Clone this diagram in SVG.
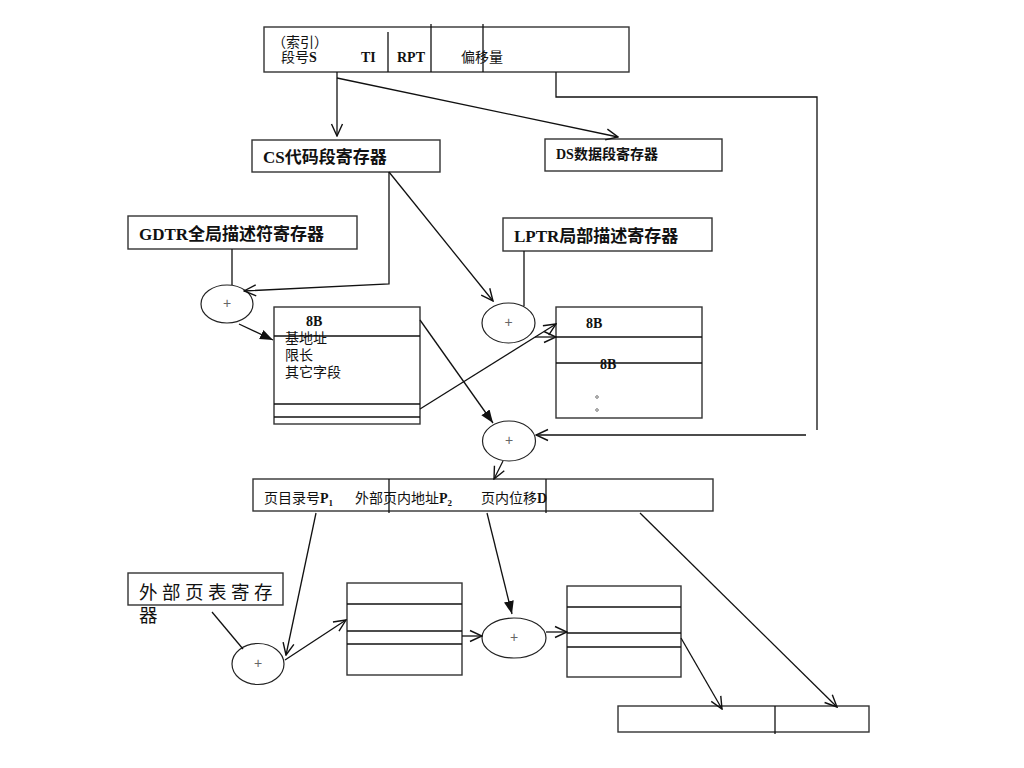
<svg xmlns="http://www.w3.org/2000/svg" width="1024" height="768" viewBox="0 0 1024 768">
<defs>
<style>
.box{fill:#fff;stroke:#333;stroke-width:1.4}
.ln{fill:none;stroke:#111;stroke-width:1.3}
.ell{fill:#fff;stroke:#222;stroke-width:1.2}
.t{font-family:"Liberation Serif","Noto Sans CJK SC",serif;fill:#111}
.cjk{font-family:"Noto Sans CJK SC",sans-serif;fill:#111}
.b{font-weight:bold}
.plus{font-family:"Liberation Sans",sans-serif;font-size:14px;fill:#666;text-anchor:middle}
</style>
<marker id="open" markerUnits="userSpaceOnUse" markerWidth="14" markerHeight="14" viewBox="0 0 14 14" refX="13" refY="7" orient="auto">
<path d="M1,1.5 L13,7 L1,12.5" fill="none" stroke="#111" stroke-width="1.4"/>
</marker>
<marker id="fill" markerUnits="userSpaceOnUse" markerWidth="14" markerHeight="12" viewBox="0 0 14 12" refX="13" refY="6" orient="auto">
<path d="M0,1 L13,6 L0,11 z" fill="#111"/>
</marker>
</defs>
<rect width="1024" height="768" fill="#fff"/>

<g id="selector">
<rect class="box" x="264" y="27" width="365" height="45"/>
<line class="ln" x1="388" y1="32" x2="388" y2="72"/>
<line class="ln" x1="431" y1="24" x2="431" y2="72"/>
<line class="ln" x1="483" y1="24" x2="483" y2="72"/>
<text class="cjk" x="272" y="47" font-size="14">（索引）</text>
<text class="t" x="281" y="62" font-size="14">段号<tspan class="b">S</tspan></text>
<text class="t b" x="361" y="62" font-size="14">TI</text>
<text class="t b" x="397" y="62" font-size="14">RPT</text>
<text class="t" x="461" y="62" font-size="14">偏移量</text>
</g>

<g id="cs">
<rect class="box" x="252" y="140" width="188" height="32"/>
<text class="t b" x="263" y="163" font-size="17">CS代码段寄存器</text>
</g>

<g id="ds">
<rect class="box" x="545" y="139" width="177" height="32"/>
<text class="t b" x="556" y="159" font-size="14">DS数据段寄存器</text>
</g>

<g id="gdtr">
<rect class="box" x="128" y="216" width="229" height="33"/>
<text class="t b" x="139" y="240" font-size="17">GDTR全局描述符寄存器</text>
</g>

<g id="lptr">
<rect class="box" x="503" y="218" width="209" height="33"/>
<text class="t b" x="514" y="242" font-size="17">LPTR局部描述寄存器</text>
</g>

<g id="add-gdtr">
<ellipse class="ell" cx="227" cy="304" rx="26" ry="19"/>
<text class="plus" x="227" y="308">+</text>
</g>

<g id="gdt">
<rect class="box" x="274" y="307" width="146" height="117"/>
<line class="ln" x1="274" y1="336" x2="420" y2="336"/>
<line class="ln" x1="274" y1="404" x2="420" y2="404"/>
<line class="ln" x1="274" y1="417" x2="420" y2="417"/>
<text class="t b" x="306" y="326" font-size="14">8B</text>
<text class="t" x="285" y="343" font-size="14">基地址</text>
<text class="t" x="285" y="360" font-size="14">限长</text>
<text class="t" x="285" y="377" font-size="14">其它字段</text>
</g>

<g id="add-lptr">
<ellipse class="ell" cx="508.5" cy="323" rx="26.5" ry="20"/>
<text class="plus" x="508.5" y="327">+</text>
</g>

<g id="ldt">
<rect class="box" x="556" y="307" width="146" height="111"/>
<line class="ln" x1="556" y1="337" x2="702" y2="337"/>
<line class="ln" x1="556" y1="363" x2="702" y2="363"/>
<text class="t b" x="586" y="328" font-size="14">8B</text>
<text class="t b" x="600" y="369" font-size="14">8B</text>
<circle cx="597" cy="397" r="1.3" fill="none" stroke="#555" stroke-width="0.8"/>
<circle cx="597" cy="410" r="1.3" fill="none" stroke="#555" stroke-width="0.8"/>
</g>

<g id="add-linear">
<ellipse class="ell" cx="509" cy="441" rx="26.5" ry="20"/>
<text class="plus" x="509" y="445">+</text>
</g>

<g id="linear">
<rect class="box" x="253" y="479" width="460" height="32"/>
<line class="ln" x1="389" y1="479" x2="389" y2="513"/>
<line class="ln" x1="546" y1="479" x2="546" y2="513"/>
<text class="t" x="264" y="503" font-size="14">页目录号<tspan class="b">P</tspan><tspan class="b" font-size="9" dy="3">1</tspan></text>
<text class="t" x="355" y="503" font-size="14">外部页内地址<tspan class="b">P</tspan><tspan class="b" font-size="9" dy="3">2</tspan></text>
<text class="t" x="481" y="503" font-size="14">页内位移<tspan class="b">D</tspan></text>
</g>

<g id="ext-reg">
<rect class="box" x="128" y="573" width="155" height="32"/>
<text class="t" x="139" y="599" font-size="18.5" letter-spacing="4.5">外部页表寄存</text>
<text class="t" x="139" y="622" font-size="18.5">器</text>
</g>

<g id="add-ext">
<ellipse class="ell" cx="258" cy="664" rx="26" ry="20.5"/>
<text class="plus" x="258" y="668">+</text>
</g>

<g id="table2">
<rect class="box" x="347" y="583" width="115" height="92"/>
<line class="ln" x1="347" y1="604" x2="462" y2="604"/>
<line class="ln" x1="347" y1="631" x2="462" y2="631"/>
<line class="ln" x1="347" y1="644" x2="462" y2="644"/>
</g>

<g id="add-mid">
<ellipse class="ell" cx="514" cy="638" rx="32" ry="20"/>
<text class="plus" x="514" y="642">+</text>
</g>

<g id="table3">
<rect class="box" x="567" y="586" width="114" height="91"/>
<line class="ln" x1="567" y1="607" x2="681" y2="607"/>
<line class="ln" x1="567" y1="633" x2="681" y2="633"/>
<line class="ln" x1="567" y1="647" x2="681" y2="647"/>
</g>

<g id="physical">
<rect class="box" x="618" y="706" width="251" height="26"/>
<line class="ln" x1="775" y1="706" x2="775" y2="734"/>
</g>

<g id="connectors">
<line class="ln" x1="337" y1="72" x2="337" y2="136" marker-end="url(#open)"/>
<line class="ln" x1="337" y1="78" x2="618" y2="137" marker-end="url(#open)"/>
<polyline class="ln" points="556,72 556,97 817,97 817,430"/>
<line class="ln" x1="806" y1="435" x2="536" y2="435" marker-end="url(#open)"/>
<polyline class="ln" points="389,172 389,284 244,291" marker-end="url(#open)"/>
<line class="ln" x1="389" y1="172" x2="493" y2="301" marker-end="url(#open)"/>
<line class="ln" x1="232" y1="249" x2="232" y2="285"/>
<line class="ln" x1="239" y1="324" x2="273" y2="340" marker-end="url(#fill)"/>
<line class="ln" x1="524" y1="251" x2="524" y2="306"/>
<line class="ln" x1="420" y1="320" x2="493" y2="423" marker-end="url(#fill)"/>
<line class="ln" x1="420" y1="409" x2="556" y2="324" marker-end="url(#open)"/>
<line class="ln" x1="535" y1="337" x2="556" y2="337" marker-end="url(#open)"/>
<line class="ln" x1="503" y1="461" x2="494" y2="479" marker-end="url(#open)"/>
<line class="ln" x1="316" y1="513" x2="286" y2="655" marker-end="url(#open)"/>
<line class="ln" x1="487" y1="513" x2="512" y2="614" marker-end="url(#fill)"/>
<line class="ln" x1="640" y1="513" x2="837" y2="707" marker-end="url(#open)"/>
<line class="ln" x1="212" y1="612" x2="243" y2="649" stroke-width="1"/>
<line class="ln" x1="285" y1="660" x2="346" y2="620" marker-end="url(#open)"/>
<line class="ln" x1="462" y1="636" x2="482" y2="636" marker-end="url(#open)"/>
<line class="ln" x1="546" y1="632" x2="567" y2="632" marker-end="url(#open)"/>
<line class="ln" x1="681" y1="638" x2="722" y2="709" marker-end="url(#open)"/>
</g>
</svg>
